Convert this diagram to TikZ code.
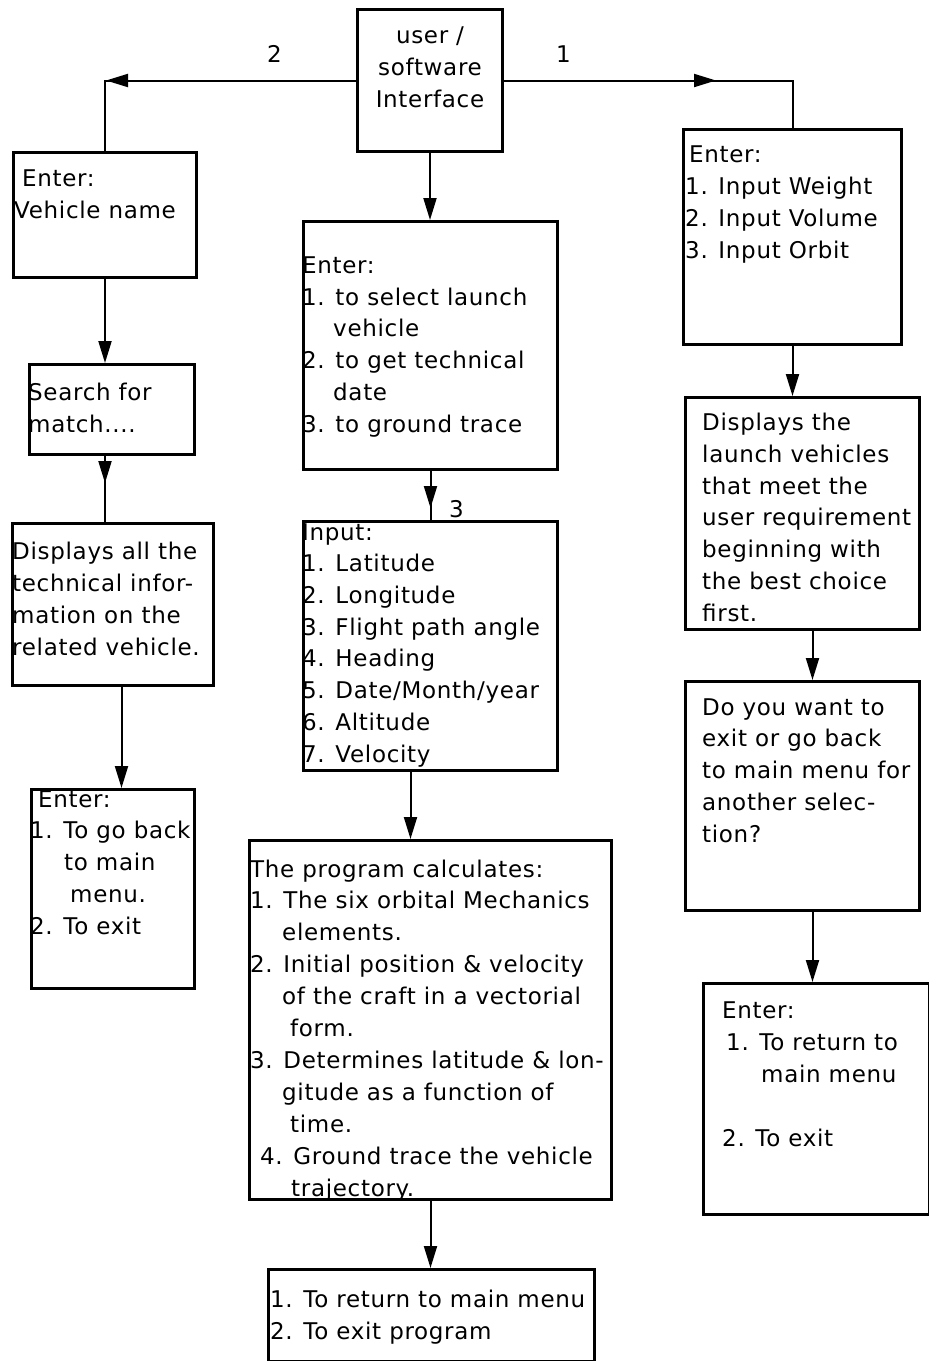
\documentclass[tikz,border=0pt]{standalone}
\usepackage{fontspec}
\newfontfamily\plotfont[LetterSpace=3]{DejaVu Sans}
\usetikzlibrary{arrows.meta,decorations.markings}

\tikzset{
  box/.style={draw, line width=3pt, inner sep=0pt, anchor=north west},
  txt/.style={anchor=base west, inner sep=0pt, align=left,
    font=\plotfont\fontsize{23}{31.7}\selectfont},
  flow/.style={line width=2pt},
  tip/.style={-{Triangle[length=22pt,width=13pt]}},
  midtip/.style={postaction={decorate}, decoration={markings,
    mark=at position #1 with {\arrow{Triangle[length=22pt,width=13pt]}}}},
}

\begin{document}
\begin{tikzpicture}[x=1pt,y=-1pt]
  \useasboundingbox (0,0) rectangle (929,1361);

  % boxes
  \node[box, minimum width=145pt, minimum height=142pt] (ui)   at (356,8) {};
  \node[box, minimum width=183pt, minimum height=125pt] (veh)  at (12,151) {};
  \node[box, minimum width=254pt, minimum height=248pt] (menu) at (302,220) {};
  \node[box, minimum width=218pt, minimum height=215pt] (wt)   at (682,128) {};
  \node[box, minimum width=165pt, minimum height=90pt]  (srch) at (28,363) {};
  \node[box, minimum width=201pt, minimum height=162pt] (info) at (11,522) {};
  \node[box, minimum width=254pt, minimum height=249pt] (inp)  at (302,520) {};
  \node[box, minimum width=234pt, minimum height=232pt] (disp) at (684,396) {};
  \node[box, minimum width=163pt, minimum height=199pt] (back) at (30,788) {};
  \node[box, minimum width=362pt, minimum height=359pt] (calc) at (248,839) {};
  \node[box, minimum width=234pt, minimum height=229pt] (ask)  at (684,680) {};
  \node[box, minimum width=226pt, minimum height=231pt] (ret)  at (702,982) {};
  \node[box, minimum width=326pt, minimum height=92pt]  (fin)  at (267,1268) {};

  % texts (anchored at the baseline of their last line)
  \node[txt, anchor=base, align=center] (uiT) at (430,107) {user /\\software\\Interface};
  \node[txt] (vehT) at (14,218) {\hspace*{8pt}Enter:\\Vehicle name};
  \node[txt] (wtT) at (685,258) {\hspace*{4pt}Enter:\\1. Input Weight\\2. Input Volume\\3. Input Orbit};
  \node[txt] (menuT) at (302,432) {Enter:\\1. to select launch\\\hspace*{31pt}vehicle\\2. to get technical\\\hspace*{31pt}date\\3. to ground trace};
  \node[txt] (srchT) at (28,432) {Search for\\match....};
  \node[txt] (infoT) at (12,655) {Displays all the\\technical infor-\\mation on the\\related vehicle.};
  \node[txt] (inpT) at (302,762) {Input:\\1. Latitude\\2. Longitude\\3. Flight path angle\\4. Heading\\5. Date/Month/year\\6. Altitude\\7. Velocity};
  \node[txt] (dispT) at (702,621) {Displays the\\launch vehicles\\that meet the\\user requirement\\beginning with\\the best choice\\first.};
  \node[txt] (backT) at (30,934) {\hspace*{8pt}Enter:\\1. To go back\\\hspace*{34pt}to main\\\hspace*{40pt}menu.\\2. To exit};
  \node[txt] (askT) at (702,842) {Do you want to\\exit or go back\\to main menu for\\another selec-\\tion?};
  \node[txt, font=\plotfont\fontsize{23}{31.9}\selectfont] (calcT) at (250,1196) {The program calculates:\\1. The six orbital Mechanics\\\hspace*{32pt}elements.\\2. Initial position \& velocity\\\hspace*{32pt}of the craft in a vectorial\\\hspace*{40pt}form.\\3. Determines latitude \& lon-\\\hspace*{32pt}gitude as a function of\\\hspace*{40pt}time.\\\hspace*{10pt}4. Ground trace the vehicle\\\hspace*{41pt}trajectory.};
  \node[txt] (retT) at (722,1146) {Enter:\\\hspace*{4pt}1. To return to\\\hspace*{39pt}main menu\\[32pt]2. To exit};
  \node[txt] (finT) at (270,1339) {1. To return to main menu\\2. To exit program};

  % choice labels
  \node[txt] (two) at (267,62) {2};
  \node[txt] (one) at (556,62) {1};
  \node[txt] (three) at (449,517) {3};

  % connectors
  \draw[flow, midtip=250pt] (ui.west) -| (veh.north);
  \draw[flow, midtip=212pt] (ui.east) -| (wt.north);
  \draw[flow, tip] (ui.south) -- (ui.south |- menu.north);
  \draw[flow, midtip=37pt] (menu.south) -- (inp.north);
  \draw[flow, tip] ([xshift=-20pt]inp.south) -- ([xshift=-20pt]inp.south |- calc.north);
  \draw[flow, tip] (calc.south) -- (calc.south |- fin.north);
  \draw[flow, tip] (veh.south) -- (veh.south |- srch.north);
  \draw[flow, midtip=27pt] (veh.south |- srch.south) -- (veh.south |- info.north);
  \draw[flow, tip] ([xshift=8.5pt]info.south) -- ([xshift=8.5pt]info.south |- back.north);
  \draw[flow, tip] (wt.south) -- (wt.south |- disp.north);
  \draw[flow, tip] ([xshift=10pt]disp.south) -- ([xshift=10pt]disp.south |- ask.north);
  \draw[flow, tip] ([xshift=10pt]ask.south) -- ([xshift=10pt]ask.south |- ret.north);
\end{tikzpicture}
\end{document}
